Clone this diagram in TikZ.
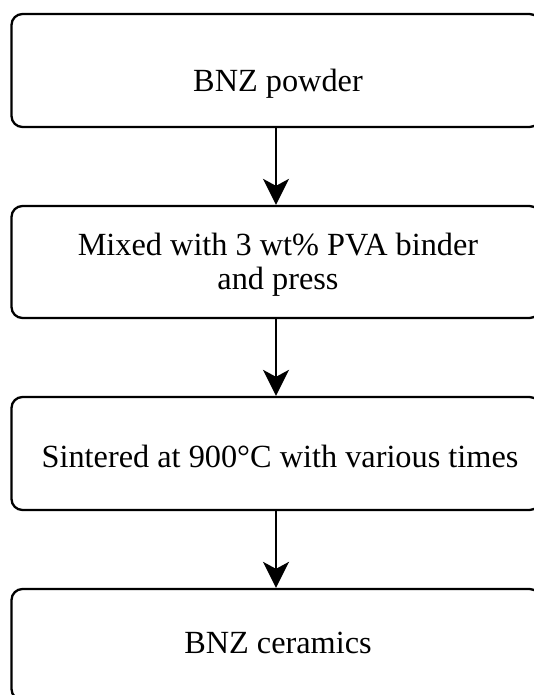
\documentclass[tikz,border=0pt]{standalone}
\usepackage{fontspec}
\setmainfont{Liberation Serif}
\usetikzlibrary{arrows.meta}
\begin{document}
\begin{tikzpicture}[x=1pt,y=-1pt,
  box/.style={draw=black,line width=2.3pt,rounded corners=11pt,minimum width=529pt,inner sep=0pt},
  lbl/.style={font=\fontsize{32.3}{34}\selectfont,inner sep=0pt,align=center},
  conn/.style={line width=2.3pt,-{Stealth[length=26pt,width=26pt,inset=7pt]}}]
\useasboundingbox (0,0) rectangle (534,695);
\node[box,minimum height=113pt] (b1) at (276,70.5) {};
\node[box,minimum height=112pt] (b2) at (276,262) {};
\node[box,minimum height=113pt] (b3) at (276,453.5) {};
\node[box,minimum height=111pt] (b4) at (276,644.5) {};
\node[lbl] (t1) at (278,84) {BNZ powder};
\node[lbl] (t2) at (278,265) {Mixed with 3 wt\% PVA binder\\and press};
\node[lbl] (t3) at (280,456) {Sintered at 900°C with various times};
\node[lbl] (t4) at (278,643) {BNZ ceramics};
\draw[conn] (b1.south) -- (b2.north);
\draw[conn] (b2.south) -- (b3.north);
\draw[conn] (b3.south) -- (b4.north);
\end{tikzpicture}
\end{document}
